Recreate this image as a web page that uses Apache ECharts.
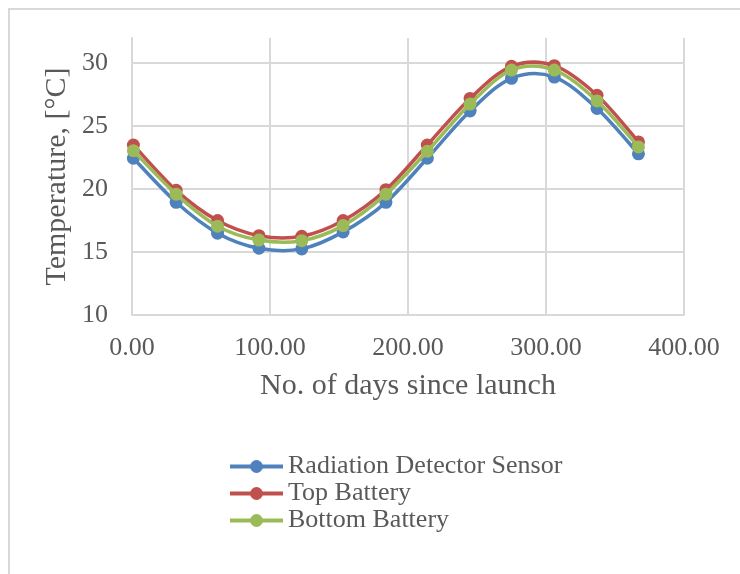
<!DOCTYPE html>
<html>
<head>
<meta charset="utf-8">
<script src="https://cdn.jsdelivr.net/npm/echarts@6/dist/echarts.min.js"></script>
<style>
  html, body { margin: 0; padding: 0; background: #ffffff; }
  #chart { width: 740px; height: 574px; }
</style>
</head>
<body>
<div id="chart"></div>
<script>
const days = [1, 32, 62, 92, 123, 153, 184, 214, 245, 275, 306, 337, 367];
const radiationDetector = [22.45, 18.95, 16.5, 15.3, 15.25, 16.6, 18.95, 22.45, 26.2, 28.8, 28.9, 26.4, 22.8];
const topBattery = [23.5, 19.9, 17.5, 16.3, 16.25, 17.5, 19.95, 23.5, 27.2, 29.75, 29.8, 27.45, 23.75];
const bottomBattery = [23.05, 19.6, 17.05, 15.95, 15.9, 17.1, 19.6, 23.0, 26.75, 29.45, 29.45, 27.0, 23.35];
const seriesNames = ['Radiation Detector Sensor', 'Top Battery', 'Bottom Battery'];
const xTicks = [0, 100, 200, 300, 400];
const yTicks = [10, 15, 20, 25, 30];

const colors = ['#4F81BD', '#C0504D', '#9BBB59'];
const font = 'Liberation Serif';
const textColor = '#595959';
const lineW = 3.5;

function pairs(vals) { return days.map((d, i) => [d, vals[i]]); }

const seriesValues = [radiationDetector, topBattery, bottomBattery];

// Smoothed line (Catmull-Rom style, like spreadsheet smoothed lines) through the data, via the axis scales
function makeRender(vals, color) {
  return function (params, api) {
    const i = params.dataIndex;
    const n = days.length;
    if (i >= n - 1) return null;
    const P = j => api.coord([days[Math.max(0, Math.min(n - 1, j))], vals[Math.max(0, Math.min(n - 1, j))]]);
    const p0 = P(i - 1), p1 = P(i), p2 = P(i + 1), p3 = P(i + 2);
    const t = 1 / 6;
    return {
      type: 'bezierCurve',
      shape: {
        x1: p1[0], y1: p1[1], x2: p2[0], y2: p2[1],
        cpx1: p1[0] + (p2[0] - p0[0]) * t, cpy1: p1[1] + (p2[1] - p0[1]) * t,
        cpx2: p2[0] - (p3[0] - p1[0]) * t, cpy2: p2[1] - (p3[1] - p1[1]) * t
      },
      style: { stroke: color, lineWidth: lineW, fill: null, lineCap: 'round' },
      silent: true
    };
  };
}

const series = [];
seriesNames.forEach((name, i) => {
  series.push({
    name: name,
    type: 'line',
    data: pairs(seriesValues[i]),
    symbol: 'circle',
    symbolSize: 13,
    lineStyle: { width: 0, opacity: 0, color: colors[i] },
    itemStyle: { color: colors[i] },
    z: 3 + i * 2
  });
});
seriesNames.forEach((name, i) => {
  series.push({
    name: name,
    type: 'custom',
    renderItem: makeRender(seriesValues[i], colors[i]),
    data: pairs(seriesValues[i]),
    z: 2 + i * 2,
    clip: false
  });
});

const chart = echarts.init(document.getElementById('chart'), null, { renderer: 'canvas' });
chart.setOption({
  backgroundColor: '#ffffff',
  animation: false,
  color: colors,
  graphic: [{
    type: 'rect',
    shape: { x: 9, y: 9, width: 800, height: 800 },
    style: { fill: 'none', stroke: '#d9d9d9', lineWidth: 2 },
    silent: true
  }],
  grid: { left: 132, right: 56, top: 38, bottom: 259, containLabel: false },
  xAxis: {
    type: 'value',
    min: xTicks[0],
    max: xTicks[xTicks.length - 1],
    interval: 100,
    name: 'No. of days since launch',
    nameLocation: 'middle',
    nameGap: 56,
    nameTextStyle: { fontFamily: font, fontSize: 30, color: textColor },
    axisLine: { show: true, lineStyle: { color: '#d9d9d9', width: 2 } },
    axisTick: { show: false },
    axisLabel: {
      fontFamily: font, fontSize: 26, color: textColor, margin: 20,
      formatter: v => v.toFixed(2)
    },
    splitLine: { show: true, lineStyle: { color: '#d9d9d9', width: 2 } }
  },
  yAxis: {
    type: 'value',
    min: yTicks[0],
    max: 32,
    interval: 5,
    name: 'Temperature, [°C]',
    nameLocation: 'middle',
    nameGap: 60,
    nameMoveOverlap: false,
    nameTextStyle: { fontFamily: font, fontSize: 30, color: textColor },
    axisLine: { show: true, lineStyle: { color: '#d9d9d9', width: 2 } },
    axisTick: { show: false },
    axisLabel: {
      fontFamily: font, fontSize: 26, color: textColor, margin: 24,
      formatter: v => (yTicks.indexOf(v) >= 0 ? String(v) : '')
    },
    splitLine: { show: true, showMaxLine: false, lineStyle: { color: '#d9d9d9', width: 2 } }
  },
  legend: {
    orient: 'vertical',
    left: 223,
    top: 448,
    itemWidth: 53,
    itemHeight: 16,
    itemGap: 0,
    data: seriesNames.map((name, i) => ({
      name: name,
      itemStyle: { color: colors[i] },
      lineStyle: { color: colors[i], width: 4, opacity: 1 }
    })),
    textStyle: { fontFamily: font, fontSize: 26, color: textColor, lineHeight: 27 }
  },
  series: series
});
</script>
</body>
</html>
